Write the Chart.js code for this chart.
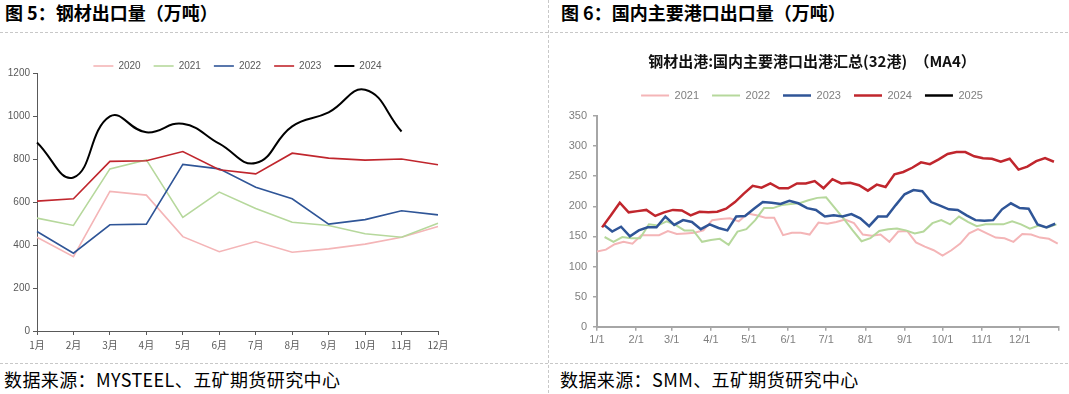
<!DOCTYPE html>
<html>
<head>
<meta charset="utf-8">
<script src="https://cdn.jsdelivr.net/npm/chart.js@4.4.1/dist/chart.umd.min.js"></script>
<style>
  html, body { margin: 0; padding: 0; background: #fff; }
  body { width: 1069px; height: 394px; position: relative; overflow: hidden; font-family: 'Noto Sans CJK SC', sans-serif; }
  .title { position: absolute; top: 0px; font-size: 18px; font-weight: bold; color: #000; white-space: nowrap; line-height: 24px; }
  .src { position: absolute; top: 367px; font-size: 18px; letter-spacing: 0.4px; color: #000; white-space: nowrap; line-height: 24px; }
  .hline { position: absolute; left: 0; width: 1069px; height: 1px; background: repeating-linear-gradient(90deg, #c8c8c8 0 3px, transparent 3px 5px); }
  .vline { position: absolute; left: 548px; top: 0; width: 1px; height: 394px; background: repeating-linear-gradient(180deg, #c8c8c8 0 3px, transparent 3px 5px); }
  .box { position: absolute; top: 40px; }
</style>
</head>
<body>
<div class="title" style="left:5px">图 5：钢材出口量（万吨）</div>
<div class="title" style="left:561px">图 6：国内主要港口出口量（万吨）</div>
<div class="hline" style="top:32px"></div>
<div class="hline" style="top:363px"></div>
<div class="vline"></div>
<div class="box" style="left:0"><canvas id="left" width="460" height="320"></canvas></div>
<div class="box" style="left:550px"><canvas id="right" width="519" height="320"></canvas></div>
<div class="src" style="left:4px">数据来源：MYSTEEL、五矿期货研究中心</div>
<div class="src" style="left:560px">数据来源：SMM、五矿期货研究中心</div>

<script>
// 图5 月度钢材出口量（万吨）
const months = ['1月', '2月', '3月', '4月', '5月', '6月', '7月', '8月', '9月', '10月', '11月', '12月'];
const exp2020 = [436, 346, 649, 632, 439, 369, 416, 366, 382, 404, 436, 486];
const exp2021 = [525, 491, 754, 796, 528, 646, 570, 506, 491, 452, 436, 501];
const exp2022 = [463, 362, 494, 497, 775, 754, 669, 615, 497, 518, 559, 540];
const exp2023 = [604, 615, 789, 792, 835, 750, 731, 827, 804, 795, 800, 773];
const exp2024 = [877, 714, 998, 924, 964, 871, 781, 952, 1017, 1122, 928];

// 图6 港口周度出港（MA4），每周五一个点
const monthLabels = ['1/1', '2/1', '3/1', '4/1', '5/1', '6/1', '7/1', '8/1', '9/1', '10/1', '11/1', '12/1'];
const monthStartDays = [0, 31, 59, 90, 120, 151, 181, 212, 243, 273, 304, 334];
const firstFriday = { 2021: 0, 2022: 6, 2023: 5, 2024: 4, 2025: 2 }; // 当年第一个周五的日序
const port2021 = [125, 128, 137, 141, 138, 152, 152, 152, 159, 154, 155, 156, 160, 177,
  179, 180, 175, 188, 185, 181, 181, 152, 156, 156, 153, 173, 171,
  174, 178, 172, 153, 151, 153, 141, 158, 159, 140, 133, 127, 118,
  127, 138, 155, 162, 155, 148, 147, 141, 154, 153, 148, 146, 138];
const port2022 = [149, 141, 149, 147, 147, 170, 168, 175, 169, 160, 160, 141, 144,
  146, 136, 158, 162, 177, 197, 197, 202, 204, 205, 210, 214, 215,
  197, 179, 160, 142, 147, 159, 162, 163, 160, 155, 158, 172, 177,
  170, 183, 174, 167, 170, 170, 170, 175, 170, 163, 168, 165, 170];
const port2023 = [170, 158, 166, 150, 160, 165, 165, 183, 169, 177, 174, 162, 170,
  164, 160, 183, 184, 196, 207, 206, 204, 209, 205, 197, 194, 183,
  185, 183, 187, 180, 167, 183, 183, 202, 220, 227, 225, 207, 201,
  195, 194, 185, 177, 176, 177, 195, 205, 197, 196, 170, 165, 171];
const port2024 = [165, 185, 206, 190, 192, 194, 184, 190, 194, 193, 185, 191, 190,
  191, 196, 207, 221, 234, 231, 238, 230, 230, 238, 238, 242, 230,
  245, 238, 239, 235, 226, 236, 232, 253, 257, 264, 273, 270, 278,
  287, 290, 290, 283, 280, 279, 274, 279, 261, 266, 275, 280, 274];
const port2025 = [];

const narrow = "'Liberation Sans Narrow', 'Liberation Sans', Arial, sans-serif";
const sans = "'Liberation Sans', Arial, sans-serif";
const cjk = "'Noto Sans CJK SC', sans-serif";

// 调整图例占用的高度
const legendGap = {
  id: 'legendGap',
  beforeLayout(chart, args, opts) {
    const lg = chart.legend;
    if (lg && !lg._gapPatched) {
      const fit = lg.fit;
      lg.fit = function () { fit.call(this); this.height += opts.extra || 0; };
      lg._gapPatched = true;
    }
  }
};

function weekly(year, values) {
  return values.map((v, i) => ({ x: firstFriday[year] + 7 * i, y: v }));
}

function line(label, data, color, width, order, tension) {
  return {
    label, data, order,
    borderColor: color, backgroundColor: color, borderWidth: width,
    pointRadius: 0, tension: tension || 0, fill: false
  };
}

const byIndex = (a, b) => a.datasetIndex - b.datasetIndex;

new Chart(document.getElementById('left'), {
  type: 'line',
  data: {
    labels: months,
    datasets: [
      line('2020', exp2020, '#f4b5b7', 1.6, 4),
      line('2021', exp2021, '#b6d89c', 1.6, 3),
      line('2022', exp2022, '#2f5597', 1.6, 2),
      line('2023', exp2023, '#c0262d', 1.6, 1),
      line('2024', exp2024, '#000000', 2, 0, 0.45)
    ]
  },
  options: {
    responsive: false,
    animation: false,
    layout: { padding: { top: 8, right: 22, left: 0, bottom: 0 } },
    plugins: {
      legend: {
        fullSize: false,
        labels: {
          usePointStyle: true, pointStyle: 'line', pointStyleWidth: 20, padding: 13, sort: byIndex,
          color: '#595959', font: { family: narrow, size: 10 }
        }
      },
      tooltip: { enabled: false },
      legendGap: { extra: -8 }
    },
    scales: {
      x: {
        offset: false,
        afterFit(s) { s.height = 29; },
        border: { color: '#595959', width: 1 },
        grid: { drawOnChartArea: false, tickLength: 4, color: '#595959' },
        ticks: { autoSkip: false, maxRotation: 0, padding: 4, color: '#595959', font: { family: cjk, size: 10 } }
      },
      y: {
        min: 0, max: 1200,
        afterFit(s) { s.width = 37; },
        border: { color: '#595959', width: 1 },
        grid: { drawOnChartArea: false, tickLength: 4, color: '#595959' },
        ticks: { stepSize: 200, padding: 3, color: '#595959', font: { family: narrow, size: 10 }, callback: v => String(v) }
      }
    }
  },
  plugins: [legendGap]
});

new Chart(document.getElementById('right'), {
  type: 'line',
  data: {
    datasets: [
      line('2021', weekly(2021, port2021), '#f4b5b7', 2, 4),
      line('2022', weekly(2022, port2022), '#b6d89c', 2, 3),
      line('2023', weekly(2023, port2023), '#2f5597', 2.5, 2),
      line('2024', weekly(2024, port2024), '#c0262d', 2.5, 1),
      line('2025', weekly(2025, port2025), '#000000', 2.5, 0)
    ]
  },
  options: {
    responsive: false,
    animation: false,
    layout: { padding: { top: 0, right: 10, left: 15, bottom: 0 } },
    plugins: {
      title: {
        display: true,
        text: '钢材出港:国内主要港口出港汇总(32港)　（MA4）',
        color: '#111', font: { family: cjk, size: 15, weight: 'bold' },
        padding: { top: 12, bottom: 7 }
      },
      legend: {
        labels: {
          usePointStyle: true, pointStyle: 'line', pointStyleWidth: 28, padding: 13, sort: byIndex,
          color: '#7f7f7f', font: { family: sans, size: 11 }
        }
      },
      tooltip: { enabled: false },
      legendGap: { extra: 5 }
    },
    scales: {
      x: {
        type: 'linear', min: 0, max: 365,
        afterBuildTicks(s) { s.ticks = monthStartDays.concat([365]).map(v => ({ value: v })); },
        afterFit(s) { s.height = 33.3; },
        border: { color: '#a6a6a6', width: 2 },
        grid: { drawOnChartArea: false, tickLength: 4, color: '#a6a6a6', lineWidth: 1.5 },
        ticks: {
          autoSkip: false, maxRotation: 0, padding: 3, color: '#7f7f7f', font: { family: sans, size: 11 },
          callback: (v, i) => monthLabels[i] || ''
        }
      },
      y: {
        min: 0, max: 350,
        afterFit(s) { s.width = 32; },
        border: { color: '#a6a6a6', width: 2 },
        grid: { drawOnChartArea: false, tickLength: 4, color: '#a6a6a6', lineWidth: 1.5 },
        ticks: { stepSize: 50, padding: 6, color: '#7f7f7f', font: { family: sans, size: 11 } }
      }
    }
  },
  plugins: [legendGap]
});
</script>
</body>
</html>
